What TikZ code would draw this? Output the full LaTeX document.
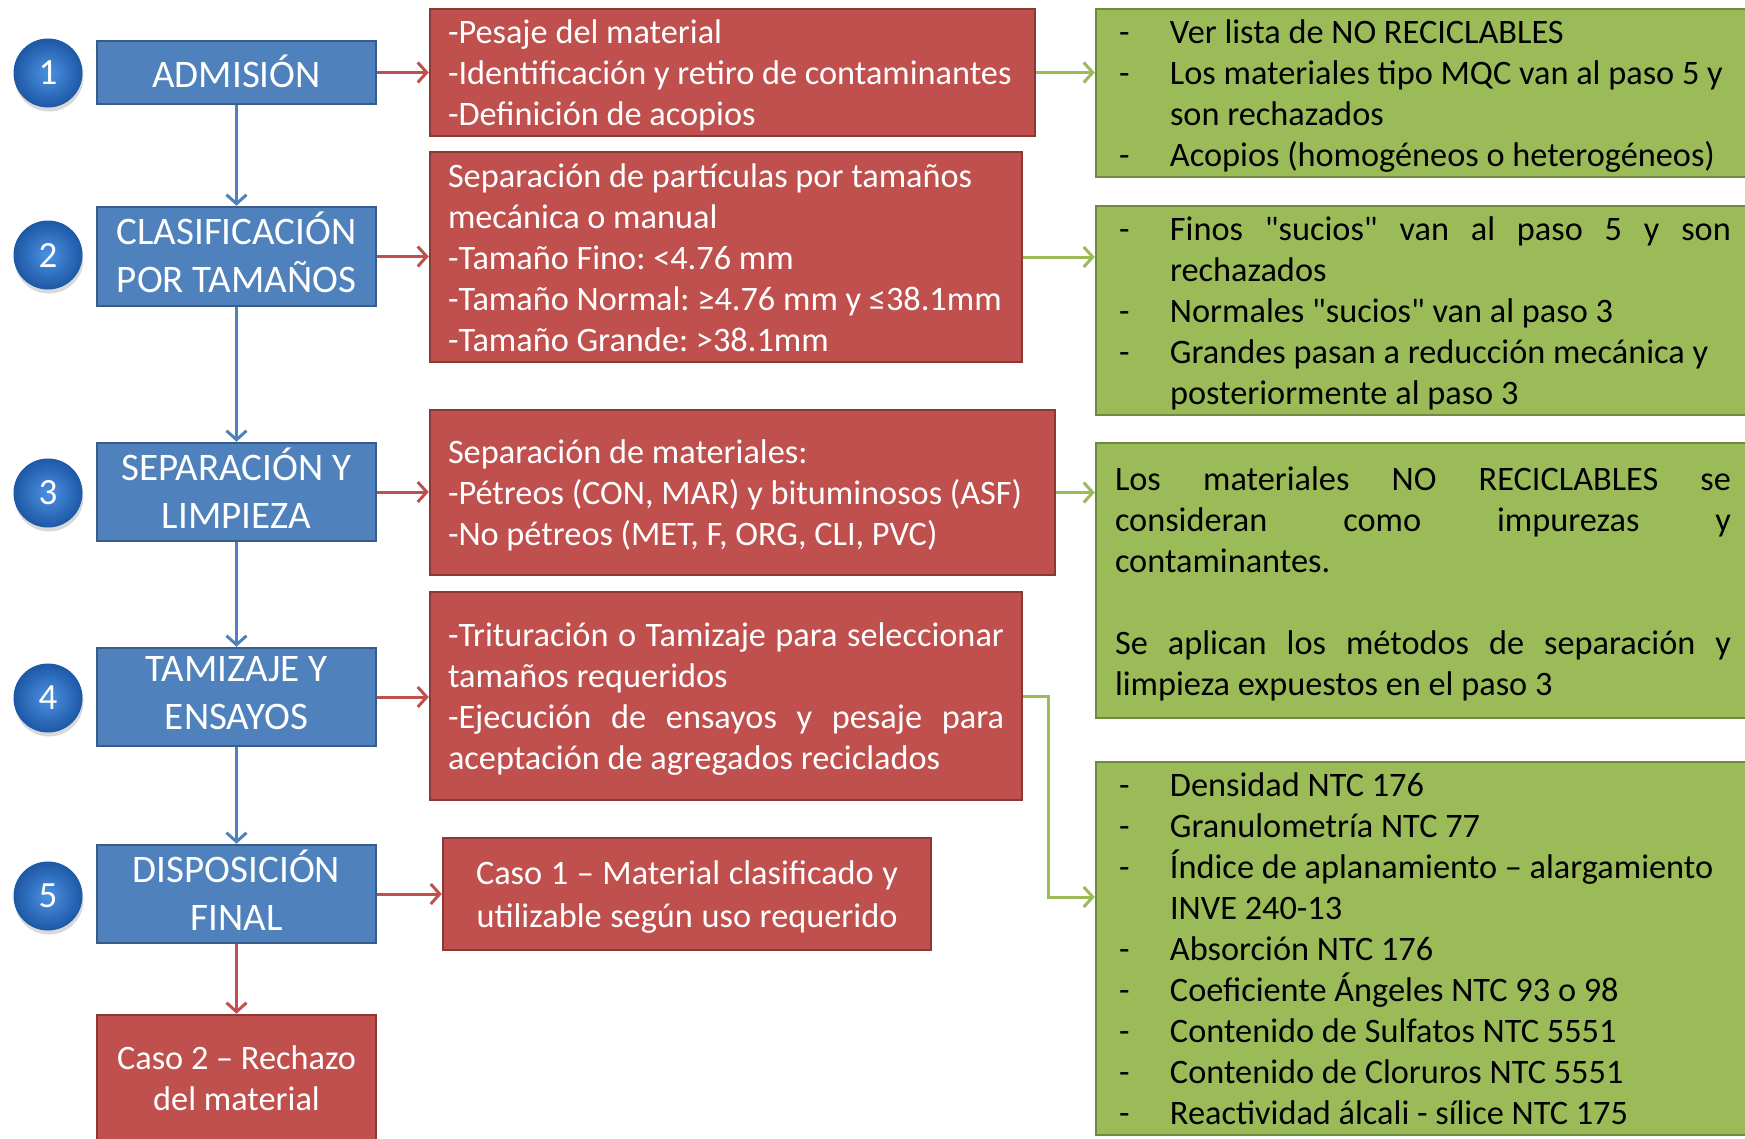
\documentclass[tikz,border=0pt]{standalone}
\usepackage{fontspec}
\setmainfont{Carlito}[Ligatures=TeXOff]
\usetikzlibrary{arrows.meta,shadows}

\definecolor{azulfondo}{HTML}{4F81BD}
\definecolor{azulborde}{HTML}{385D8A}
\definecolor{rojofondo}{HTML}{C0504D}
\definecolor{rojoborde}{HTML}{8C3836}
\definecolor{verdefondo}{HTML}{9BBB59}
\definecolor{verdeborde}{HTML}{71893F}
\definecolor{bolaclara}{HTML}{4C92E2}
\definecolor{bolaoscura}{HTML}{1D58A6}

\newcommand{\guion}{\makebox[55pt][l]{\hspace*{4pt}-}}
\newcommand{\sangria}{\hspace*{55pt}}
\newcommand{\justo}[1]{\makebox[\linewidth][s]{#1}}
\newcommand{\puntal}{\rule[-9pt]{0pt}{42pt}}
\newcommand{\puntalazul}{\rule[-8.5pt]{0pt}{47pt}}

\begin{document}
\begin{tikzpicture}[x=1pt, y=-1pt,
  bola/.style={circle, minimum size=69pt, inner sep=0pt, shading=radial,
    inner color=bolaclara, outer color=bolaoscura,
    text=white, font=\fontsize{37}{40}\selectfont,
    drop shadow={shadow xshift=1pt, shadow yshift=-4pt, opacity=.3}},
  paso/.style={rectangle, fill=azulfondo, draw=azulborde, line width=2.5pt, text=white,
    minimum width=279pt, inner ysep=0pt, align=center, font=\fontsize{39}{48}\selectfont,
    execute at begin node={\frenchspacing\spaceskip=0pt\xspaceskip=0pt\puntalazul},
    execute at end node={\puntalazul}},
  rojo/.style={rectangle, fill=rojofondo, draw=rojoborde, line width=2.5pt, text=white,
    inner xsep=18pt, inner ysep=0pt, align=left, font=\fontsize{34.3}{41}\selectfont,
    execute at begin node={\frenchspacing\spaceskip=0pt\xspaceskip=0pt\puntal},
    execute at end node={\puntal}},
  verde/.style={rectangle, fill=verdefondo, draw=verdeborde, line width=2.5pt, text=black,
    inner xsep=19pt, inner ysep=0pt, align=left, text width=616pt, font=\fontsize{34.3}{41}\selectfont,
    execute at begin node={\frenchspacing\spaceskip=0pt\xspaceskip=0pt\puntal},
    execute at end node={\puntal}},
  fazul/.style={draw=azulfondo, line width=3pt, -{Straight Barb[length=9pt, width=20pt]}},
  froja/.style={draw=rojofondo, line width=3pt, -{Straight Barb[length=9pt, width=20pt]}},
  fverde/.style={draw=verdefondo, line width=3pt, -{Straight Barb[length=9pt, width=20pt]}}]
\useasboundingbox (0,0) rectangle (1745,1138);

% numeros
\node[bola] (n1) at (48,73) {1};
\node[bola] (n2) at (48,255) {2};
\node[bola] (n3) at (48,493) {3};
\node[bola] (n4) at (48,698) {4};
\node[bola] (n5) at (48,896) {5};

% pasos
\node[paso, minimum height=63pt] (b1) at (236.5,72.5) {ADMISIÓN};
\node[paso, minimum height=99pt] (b2) at (236.5,256.5) {CLASIFICACIÓN\\POR TAMAÑOS};
\node[paso, minimum height=98pt] (b3) at (236.5,492) {SEPARACIÓN Y\\LIMPIEZA};
\node[paso, minimum height=98pt] (b4) at (236.5,697) {TAMIZAJE Y\\ENSAYOS};
\node[paso, minimum height=98pt] (b5) at (236.5,894) {DISPOSICIÓN\\FINAL};
\node[rojo, minimum width=279pt, minimum height=136pt, align=center] (c2) at (236.5,1083) {Caso 2 – Rechazo\\del material};

% actividades
\node[rojo, text width=569pt, minimum height=127pt] (r1) at (732.5,72.5) {-Pesaje del material\\-Identificación y retiro de contaminantes\\-Definición de acopios};
\node[rojo, text width=556pt, minimum height=210pt] (r2) at (726,257) {Separación de partículas por tamaños\\mecánica o manual\\-Tamaño Fino: <4.76 mm\\-Tamaño Normal: ≥4.76 mm y ≤38.1mm\\-Tamaño Grande: >38.1mm};
\node[rojo, text width=589pt, minimum height=165pt] (r3) at (742.5,492.5) {Separación de materiales:\\-Pétreos (CON, MAR) y bituminosos (ASF)\\-No pétreos (MET, F, ORG, CLI, PVC)};
\node[rojo, text width=556pt, minimum height=208pt] (r4) at (726,696) {\justo{-Trituración o Tamizaje para seleccionar}\\tamaños requeridos\\\justo{-Ejecución de ensayos y pesaje para}\\aceptación de agregados reciclados};
\node[rojo, text width=452pt, minimum height=112pt, align=center] (r5) at (687,894) {Caso 1 – Material clasificado y\\utilizable según uso requerido};

% observaciones
\node[verde, minimum height=168pt] (g1) at (1423,93) {\guion Ver lista de NO RECICLABLES\\\guion Los materiales tipo MQC van al paso 5 y\\\sangria son rechazados\\\guion Acopios (homogéneos o heterogéneos)};
\node[verde, minimum height=209pt] (g2) at (1423,310.5) {\guion\makebox[561pt][s]{Finos "sucios" van al paso 5 y son}\\\sangria rechazados\\\guion Normales "sucios" van al paso 3\\\guion Grandes pasan a reducción mecánica y\\\sangria posteriormente al paso 3};
\node[verde, minimum height=275pt] (g3) at (1423,580.5) {\justo{Los materiales NO RECICLABLES se}\\\justo{consideran como impurezas y}\\contaminantes.\\[41pt]\justo{Se aplican los métodos de separación y}\\limpieza expuestos en el paso 3};
\node[verde, minimum height=373pt] (g4) at (1423,948.5) {\guion Densidad NTC 176\\\guion Granulometría NTC 77\\\guion Índice de aplanamiento – alargamiento\\\sangria INVE 240-13\\\guion Absorción NTC 176\\\guion Coeficiente Ángeles NTC 93 o 98\\\guion Contenido de Sulfatos NTC 5551\\\guion Contenido de Cloruros NTC 5551\\\guion Reactividad álcali - sílice NTC 175};

% conectores
\draw[fazul] (b1) -- (b2);
\draw[fazul] (b2) -- (b3);
\draw[fazul] (b3) -- (b4);
\draw[fazul] (b4) -- (b5);
\draw[froja] (b5) -- (c2);
\draw[froja] (b1.east) -- (b1.east -| r1.west);
\draw[froja] (b2.east) -- (b2.east -| r2.west);
\draw[froja] (b3.east) -- (b3.east -| r3.west);
\draw[froja] (b4.east) -- (b4.east -| r4.west);
\draw[froja] (b5.east) -- (b5.east -| r5.west);
\draw[fverde] (r1.east) -- (r1.east -| g1.west);
\draw[fverde] (r2.east) -- (r2.east -| g2.west);
\draw[fverde] (r3.east) -- (r3.east -| g3.west);
\coordinate (codo) at (1048,897);
\draw[fverde] (r4.east) -| (codo) -- (codo -| g4.west);

\end{tikzpicture}
\end{document}
